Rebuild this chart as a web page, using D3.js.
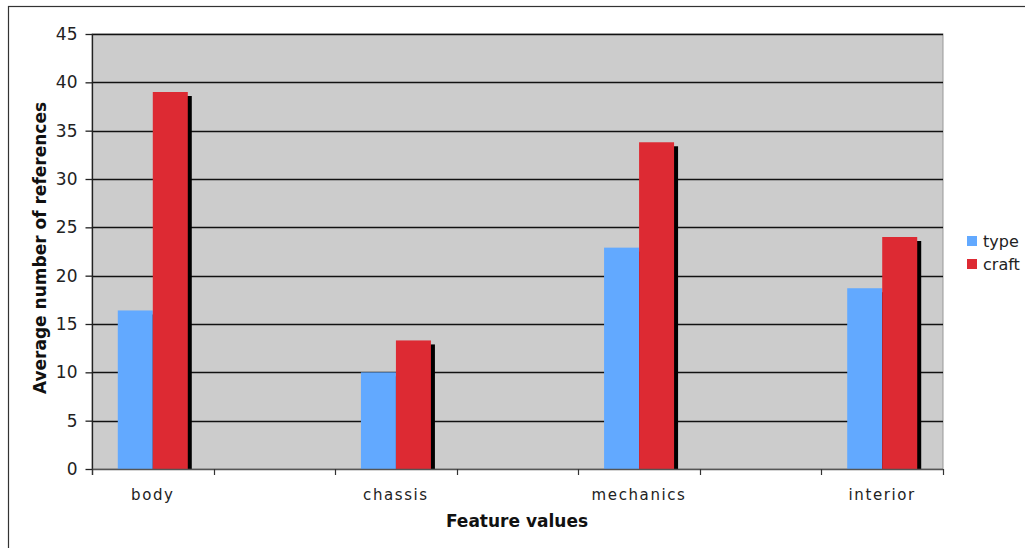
<!DOCTYPE html>
<html>
<head>
<meta charset="utf-8">
<script src="https://cdn.jsdelivr.net/npm/d3@7"></script>
<style>
  html, body { margin: 0; padding: 0; background: #fff; }
  svg { display: block; }
  text { font-family: "DejaVu Sans", Verdana, sans-serif; }
</style>
</head>
<body>
<svg id="chart" width="1025" height="548"></svg>
<script>
// Categories along the x axis (blank slots separate the feature groups)
const categories = ["body", "", "chassis", "", "mechanics", "", "interior"];
const seriesNames = ["type", "craft"];
const typeValues  = [16.4, null, 10.0, null, 22.9, null, 18.7];
const craftValues = [39.0, null, 13.3, null, 33.8, null, 24.0];
const yTicks = [0, 5, 10, 15, 20, 25, 30, 35, 40, 45];
const colors = ["#62a9ff", "#dd2a33"];

const svg = d3.select("#chart");

// Outer frame
svg.append("rect")
  .attr("x", 8.5).attr("y", 6.5)
  .attr("width", 1040).attr("height", 560)
  .attr("fill", "#fff").attr("stroke", "#333").attr("stroke-width", 1.2);

const plot = { left: 92, top: 34, right: 943, bottom: 469 };

const x = d3.scaleBand()
  .domain(d3.range(categories.length))
  .range([plot.left, plot.right])
  .paddingInner(0).paddingOuter(0);

const y = d3.scaleLinear()
  .domain([0, 45])
  .range([plot.bottom, plot.top]);

// Plot area background
svg.append("rect")
  .attr("x", plot.left).attr("y", plot.top)
  .attr("width", plot.right - plot.left).attr("height", plot.bottom - plot.top)
  .attr("fill", "#cccccc").attr("stroke", "#999").attr("stroke-width", 1);

// Horizontal gridlines
svg.append("g")
  .selectAll("line")
  .data(yTicks.filter(d => d > 0))
  .join("line")
  .attr("x1", plot.left).attr("x2", plot.right)
  .attr("y1", d => Math.round(y(d)) + 0.5).attr("y2", d => Math.round(y(d)) + 0.5)
  .attr("stroke", "#111").attr("stroke-width", 1.3);

// Inner band for the two series within each category
const groupWidth = 70;
const inner = d3.scaleBand()
  .domain(seriesNames)
  .range([-groupWidth / 2, groupWidth / 2])
  .padding(0);

const rows = [];
categories.forEach((c, i) => {
  [typeValues[i], craftValues[i]].forEach((v, s) => {
    if (v != null) rows.push({ i, s: seriesNames[s], v, color: colors[s] });
  });
});

const barX = d => x(d.i) + x.bandwidth() / 2 + inner(d.s);
const shadow = 4;

// Drop shadows
svg.append("g")
  .selectAll("rect")
  .data(rows)
  .join("rect")
  .attr("x", d => barX(d) + shadow)
  .attr("y", d => y(d.v) + shadow)
  .attr("width", inner.bandwidth())
  .attr("height", d => plot.bottom - y(d.v) - shadow)
  .attr("fill", "#000");

// Bars
svg.append("g")
  .selectAll("rect")
  .data(rows)
  .join("rect")
  .attr("x", d => barX(d))
  .attr("y", d => y(d.v))
  .attr("width", inner.bandwidth())
  .attr("height", d => plot.bottom - y(d.v))
  .attr("fill", d => d.color);

// Y axis
const yAxis = svg.append("g")
  .attr("transform", `translate(${plot.left + 0.5},0)`)
  .call(d3.axisLeft(y).tickValues(yTicks).tickSize(7).tickPadding(8));
yAxis.select(".domain").attr("stroke", "#222").attr("stroke-width", 1.3)
  .attr("d", `M0,${plot.top}V${plot.bottom + 6}`);
yAxis.selectAll(".tick line").attr("stroke", "#222").attr("stroke-width", 1.3);
yAxis.selectAll(".tick text")
  .attr("fill", "#222")
  .style("font-size", "17px")
  .style("font-family", "'DejaVu Sans', Verdana, sans-serif");

// X axis: ticks on category boundaries
const bounds = d3.range(categories.length + 1).map(i =>
  i < categories.length ? x(i) : plot.right);
const xAxis = svg.append("g");
xAxis.append("line")
  .attr("x1", plot.left).attr("x2", plot.right)
  .attr("y1", plot.bottom + 0.5).attr("y2", plot.bottom + 0.5)
  .attr("stroke", "#555").attr("stroke-width", 1.5);
xAxis.selectAll("line.tick")
  .data(bounds)
  .join("line")
  .attr("class", "tick")
  .attr("x1", d => Math.round(d) + 0.5).attr("x2", d => Math.round(d) + 0.5)
  .attr("y1", plot.bottom).attr("y2", plot.bottom + 6)
  .attr("stroke", "#333").attr("stroke-width", 1.2);
xAxis.selectAll("text")
  .data(categories.map((c, i) => ({ c, i })).filter(d => d.c))
  .join("text")
  .attr("x", d => x(d.i) + x.bandwidth() / 2)
  .attr("y", 500)
  .attr("text-anchor", "middle")
  .attr("fill", "#222")
  .style("font-size", "15px")
  .style("letter-spacing", "1.6px")
  .text(d => d.c);

// Axis titles
svg.append("text")
  .attr("x", 517).attr("y", 527)
  .attr("text-anchor", "middle")
  .attr("font-weight", "bold")
  .attr("fill", "#111")
  .style("font-size", "17px")
  .text("Feature values");

svg.append("text")
  .attr("transform", `translate(46,248) rotate(-90)`)
  .attr("text-anchor", "middle")
  .attr("font-weight", "bold")
  .attr("fill", "#111")
  .style("font-size", "17px")
  .text("Average number of references");

// Legend
const legend = svg.append("g").attr("transform", "translate(967,234)");
seriesNames.forEach((name, k) => {
  const g = legend.append("g").attr("transform", `translate(0,${k * 23})`);
  g.append("rect").attr("x", 0).attr("y", 2).attr("width", 10).attr("height", 10)
    .attr("fill", colors[k]);
  g.append("text").attr("x", 16).attr("y", 13)
    .attr("fill", "#222")
    .style("font-size", "16px")
    .text(name);
});
</script>
</body>
</html>
